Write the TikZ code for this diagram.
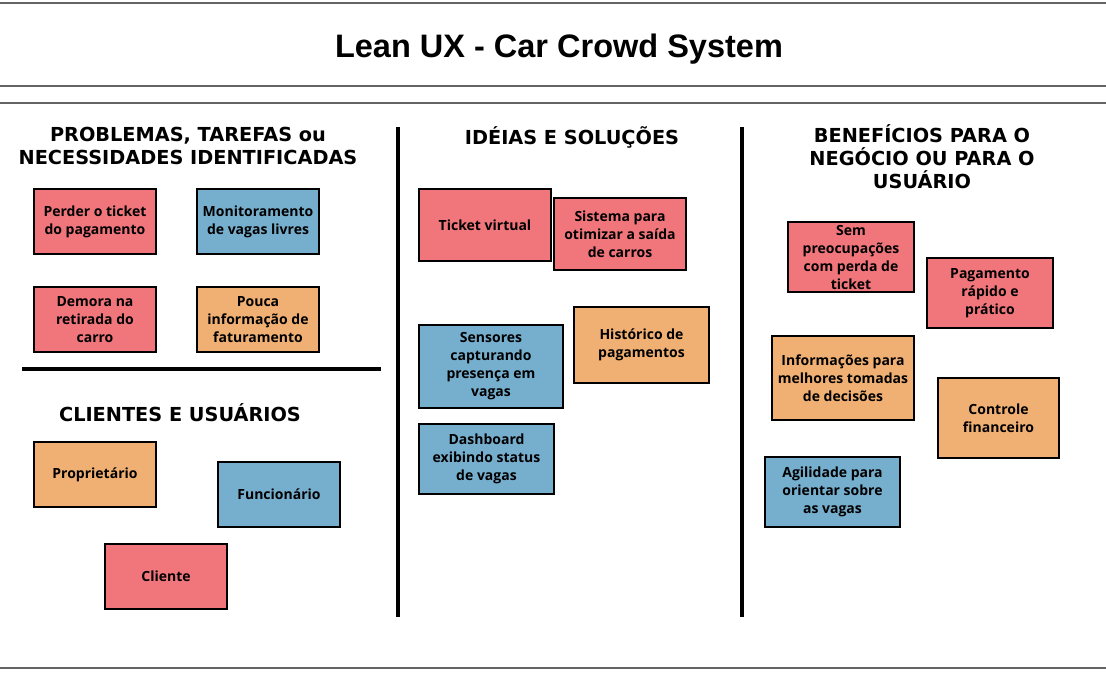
\documentclass[tikz,border=0pt]{standalone}
\usepackage{fontspec}
\setmainfont{Liberation Sans}
\newfontfamily\headfont{DejaVu Sans}
\newfontfamily\notefont{Open Sans}
\usetikzlibrary{positioning}
\definecolor{NoteRed}{RGB}{240, 118, 124}
\definecolor{NoteBlue}{RGB}{118, 174, 206}
\definecolor{NoteOrange}{RGB}{240, 176, 116}
\definecolor{RuleGray}{RGB}{100, 100, 100}

\begin{document}
\begin{tikzpicture}[
    x=1pt, y=-1pt,
    % Global Styles
    note/.style={
        rectangle,
        draw=black,            % thin black border
        line width=1.2pt,
        align=center,
        inner sep=2pt,
        text=black,
        font=\notefont\bfseries\fontsize{14}{18}\selectfont
    },
    heading/.style={
        align=center,
        font=\headfont\bfseries\fontsize{19.3}{23}\selectfont
    },
    rule/.style={
        draw=RuleGray,
        line width=2pt
    },
    divider/.style={
        draw=black,
        line width=4pt
    }
]
    \useasboundingbox (0,0) rectangle (1106,673);

    % --- Title band ---
    \node[font=\bfseries\fontsize{32.5}{36}\selectfont] (title) at (559,49) {Lean UX - Car Crowd System};
    \draw[rule] (0,3) -- (1106,3);
    \draw[rule] (0,86) -- (1106,86);
    \draw[rule] (0,103) -- (1106,103);
    \draw[rule] (0,668) -- (1106,668);

    % --- Column dividers ---
    \draw[divider] (398,127) -- (398,617);
    \draw[divider] (742,127) -- (742,617);
    \draw[divider] (22,369) -- (381,369);

    % --- Headings ---
    \node[heading] (problemas) at (188,146) {PROBLEMAS, TAREFAS ou\\NECESSIDADES IDENTIFICADAS};
    \node[heading] (clientes) at (180,413) {CLIENTES E USUÁRIOS};
    \node[heading] (ideias) at (572,137) {IDÉIAS E SOLUÇÕES};
    \node[heading] (beneficios) at (922,157) {BENEFÍCIOS PARA O\\NEGÓCIO OU PARA O\\USUÁRIO};

    % --- Problems ---
    \node[note, fill=NoteRed, minimum width=122pt, minimum height=65pt] (perder) at (95,221.5) {Perder o ticket\\do pagamento};
    \node[note, fill=NoteBlue, minimum width=122pt, minimum height=65pt] (monitor) at (258,221.5) {Monitoramento\\de vagas livres};
    \node[note, fill=NoteRed, minimum width=122pt, minimum height=65pt] (demora) at (95,319.5) {Demora na\\retirada do\\carro};
    \node[note, fill=NoteOrange, minimum width=122pt, minimum height=65pt] (pouca) at (258,319.5) {Pouca\\informação de\\faturamento};

    % --- Clients and users ---
    \node[note, fill=NoteOrange, minimum width=122pt, minimum height=65pt] (proprietario) at (95,474.5) {Proprietário};
    \node[note, fill=NoteBlue, minimum width=122pt, minimum height=65pt] (funcionario) at (279,494.5) {Funcionário};
    \node[note, fill=NoteRed, minimum width=122pt, minimum height=65pt] (cliente) at (166,576.5) {Cliente};

    % --- Ideas and solutions ---
    \node[note, fill=NoteRed, minimum width=132pt, minimum height=72pt] (ticket) at (485,225) {Ticket virtual};
    \node[note, fill=NoteRed, minimum width=132pt, minimum height=72pt] (sistema) at (620,234) {Sistema para\\otimizar a saída\\de carros};
    \node[note, fill=NoteBlue, minimum width=144pt, minimum height=83pt] (sensores) at (491,366.5) {Sensores\\capturando\\presença em\\vagas};
    \node[note, fill=NoteOrange, minimum width=135pt, minimum height=76pt] (historico) at (641.5,345) {Histórico de\\pagamentos};
    \node[note, fill=NoteBlue, minimum width=135pt, minimum height=70pt] (dashboard) at (486.5,459) {Dashboard\\exibindo status\\de vagas};

    % --- Benefits ---
    \node[note, fill=NoteRed, minimum width=126pt, minimum height=70pt] (sempreoc) at (851,257) {Sem\\preocupações\\com perda de\\ticket};
    \node[note, fill=NoteRed, minimum width=126pt, minimum height=70pt] (pagamento) at (990,293) {Pagamento\\rápido e\\prático};
    \node[note, fill=NoteOrange, minimum width=142pt, minimum height=84pt] (informacoes) at (843,378) {Informações para\\melhores tomadas\\de decisões};
    \node[note, fill=NoteOrange, minimum width=121pt, minimum height=80pt] (controle) at (998.5,418) {Controle\\financeiro};
    \node[note, fill=NoteBlue, minimum width=135pt, minimum height=70pt] (agilidade) at (832.5,492) {Agilidade para\\orientar sobre\\as vagas};

\end{tikzpicture}
\end{document}
